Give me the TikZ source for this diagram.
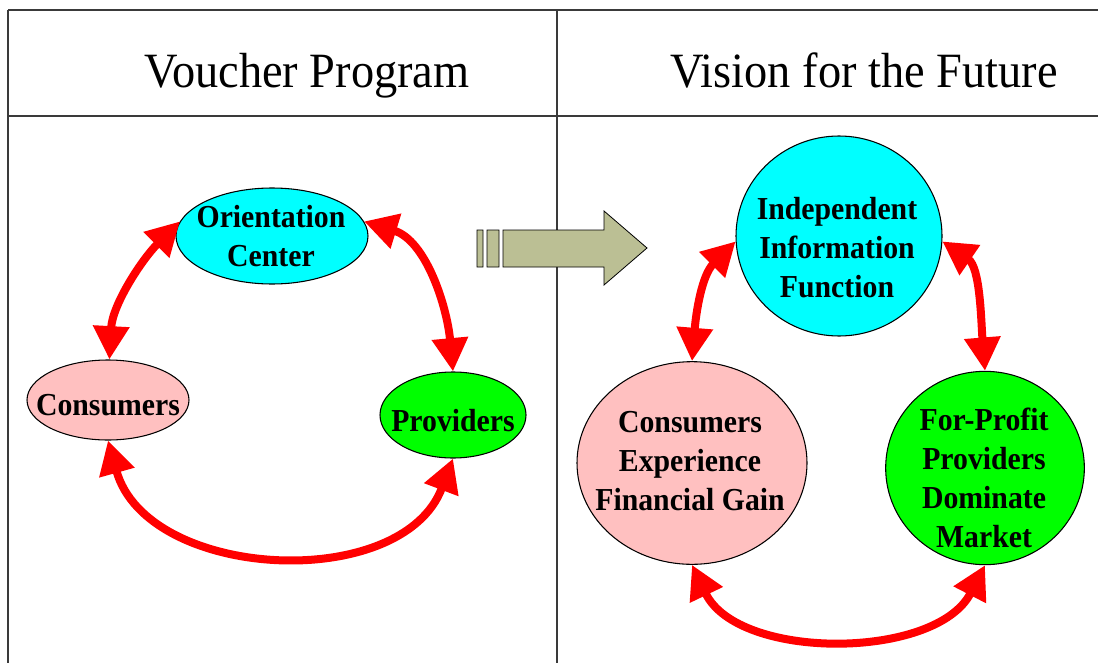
\documentclass[tikz,border=0pt]{standalone}
\usepackage{fontspec}
\usetikzlibrary{arrows.meta,shapes.geometric}
\newfontfamily\headfont[FakeStretch=0.94]{Liberation Serif}
\newfontfamily\lblfont[FakeStretch=0.93]{Liberation Serif}
\definecolor{cyanfill}{HTML}{00FFFF}
\definecolor{pinkfill}{HTML}{FFC0C0}
\definecolor{greenfill}{HTML}{00FF00}
\definecolor{khaki}{HTML}{BBBF94}
\definecolor{rulegray}{HTML}{3A3A3A}

\begin{document}
\begin{tikzpicture}[x=0.75pt,y=-0.75pt,
  blob/.style={ellipse,draw=black,line width=0.8pt,inner sep=0pt},
  lbl/.style={font=\lblfont\bfseries\fontsize{24}{29.25}\selectfont,align=center,inner sep=0pt},
  headtext/.style={font=\headfont\fontsize{37}{40}\selectfont,inner sep=0pt,anchor=base},
  link/.style={draw=red,line width=6pt,
    {Triangle[length=25pt,width=26pt]}-{Triangle[length=25pt,width=26pt]}},
  tablerule/.style={draw=rulegray,line width=1pt}]
\useasboundingbox (0,0) rectangle (1098,663);
\fill[white] (0,0) rectangle (1098,663);

% table frame
\draw[tablerule] (8,10) -- (1098,10);
\draw[tablerule] (8,116) -- (1098,116);
\draw[tablerule] (8,10) -- (8,663);
\draw[tablerule] (557,10) -- (557,663);

% column headings
\node[headtext] (hleft) at (307,88) {Voucher Program};
\node[headtext] (hright) at (864,88) {Vision for the Future};

% left column: voucher program
\node[blob,fill=cyanfill,minimum width=144pt,minimum height=72pt] (oc) at (272,236) {};
\node[lbl] (oct) at (271,236) {Orientation\\Center};
\node[blob,fill=pinkfill,minimum width=121.5pt,minimum height=60pt] (cons) at (108,400) {};
\node[lbl] (const) at (108,405) {Consumers};
\node[blob,fill=greenfill,minimum width=109.5pt,minimum height=64.5pt] (prov) at (453,415) {};
\node[lbl] (provt) at (453,421) {Providers};

\draw[link] (oc.171) .. controls +(-38,38) and +(3,-55) .. (cons.88);
\draw[link] (oc.9) .. controls +(62,19) and +(-6,-65) .. (prov.north);
\draw[link] (cons.south) .. controls +(39,140) and +(-51,135) .. (prov.south);

% block arrow between the columns
\filldraw[fill=khaki,draw=black,line width=0.6pt]
  (477,230) rectangle (483,267)
  (487,230) rectangle (499,267)
  (503,230) -- (604,230) -- (604,211) -- (647,248) -- (604,285) -- (604,267) -- (503,267) -- cycle;

% right column: vision for the future
\node[blob,fill=cyanfill,minimum width=154.5pt,minimum height=150pt] (iif) at (839,236) {};
\node[lbl] (iift) at (837,248) {Independent\\Information\\Function};
\node[blob,fill=pinkfill,minimum width=172.5pt,minimum height=152pt] (cefg) at (692,463) {};
\node[lbl] (cefgt) at (690,461) {Consumers\\Experience\\Financial Gain};
\node[blob,fill=greenfill,minimum width=149pt,minimum height=145pt] (fp) at (985,468) {};
\node[lbl] (fpt) at (984,478) {For-Profit\\Providers\\Dominate\\Market};

\draw[link] (iif.183) .. controls +(-34,34) and +(4,-48) .. (cefg.north);
\draw[link] (iif.-3) .. controls +(38,26) and +(-4,-50) .. (fp.north);
\draw[link] (cefg.south) .. controls +(46,96) and +(-49,95) .. (fp.south);
\end{tikzpicture}
\end{document}
